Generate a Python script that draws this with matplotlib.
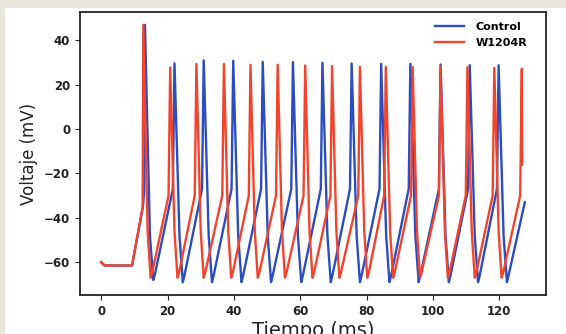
import matplotlib
matplotlib.use("Agg")
import matplotlib.pyplot as plt
from matplotlib.patches import Rectangle

# Control trace vertices (tiempo en ms, voltaje en mV), una fila por espiga
control_t = [0, 1.0, 9.3, 12.6, 12.95,
             13.2, 14.7, 15.7,
             16.2, 21.6, 22.1, 23.6, 24.6,
             25.1, 30.4, 30.9, 32.4, 33.4,
             33.9, 39.3, 39.8, 41.3, 42.3,
             42.8, 48.2, 48.7, 50.2, 51.2,
             51.7, 57.3, 57.8, 59.3, 60.3,
             60.8, 66.2, 66.7, 68.2, 69.2,
             69.7, 75.0, 75.5, 77.0, 78.0,
             78.5, 83.9, 84.4, 85.9, 86.9,
             87.4, 92.7, 93.2, 94.7, 95.7,
             96.2, 101.8, 102.3, 103.8, 104.8,
             105.3, 110.6, 111.1, 112.6, 113.6,
             114.1, 119.3, 119.8, 121.3, 122.3,
             122.8, 127.7]
control_v = [-60, -61.5, -61.5, -35, -28,
             47, -48, -68,
             -65.5, -27, 29.6, -48, -69,
             -66, -27, 31.0, -48, -69,
             -66, -27, 30.8, -48, -69,
             -66, -27, 30.3, -48, -69,
             -66, -27, 30.2, -48, -69,
             -66, -27, 29.9, -48, -69,
             -66, -27, 29.6, -48, -69,
             -66, -27, 29.4, -48, -69,
             -66, -27, 29.4, -48, -69,
             -66, -27, 29.1, -48, -69,
             -66, -27, 28.8, -48, -69,
             -66, -27, 28.8, -48, -69,
             -66, -33]

# W1204R trace vertices
w1204r_t = [0, 1.0, 9.3, 12.5,
            12.7, 14.0, 14.9,
            15.4, 20.3, 20.8, 22.1, 23.0,
            23.5, 28.2, 28.7, 30.0, 30.9,
            31.4, 36.5, 37.0, 38.3, 39.2,
            39.7, 44.5, 45.0, 46.3, 47.2,
            47.7, 52.7, 53.2, 54.5, 55.4,
            55.9, 61.0, 61.5, 62.8, 63.7,
            64.2, 69.1, 69.6, 70.9, 71.8,
            72.3, 77.5, 78.0, 79.3, 80.2,
            80.7, 85.3, 85.8, 87.1, 88.0,
            88.5, 93.4, 93.9, 95.2, 96.1,
            96.6, 101.8, 102.3, 103.6, 104.5,
            105.0, 109.9, 110.4, 111.7, 112.6,
            113.1, 118.0, 118.5, 119.8, 120.7,
            121.2, 126.3, 126.8, 126.9]
w1204r_v = [-60, -61.5, -61.5, -35,
            47, -46, -67,
            -64.5, -30, 27.8, -46, -67,
            -64.5, -30, 29.3, -46, -67,
            -64.5, -30, 29.3, -46, -67,
            -64.5, -30, 29.0, -46, -67,
            -64.5, -30, 29.0, -46, -67,
            -64.5, -30, 28.7, -46, -67,
            -64.5, -30, 28.4, -46, -67,
            -64.5, -30, 28.1, -46, -67,
            -64.5, -30, 28.1, -46, -67,
            -64.5, -30, 28.0, -46, -67,
            -64.5, -30, 28.4, -46, -67,
            -64.5, -30, 27.9, -46, -67,
            -64.5, -30, 27.6, -46, -67,
            -64.5, -30, 27.2, -16]

fig = plt.figure(figsize=(5.66, 3.34), dpi=100, facecolor='white')
# borde beige de la foto original
fig.patches.append(Rectangle((0, 0), 5 / 566, 1, transform=fig.transFigure,
                             facecolor='#e9e6dd', edgecolor='none', zorder=0))
fig.patches.append(Rectangle((0, 1 - 8 / 334), 1, 8 / 334, transform=fig.transFigure,
                             facecolor='#e9e6dd', edgecolor='none', zorder=0))

ax = fig.add_axes([80 / 566, 1 - 295 / 334, 466 / 566, 283 / 334])
ax.plot(control_t, control_v, color='#2c4cc0', lw=1.7, label='Control')
ax.plot(w1204r_t, w1204r_v, color='#f2442c', lw=1.7, label='W1204R')

ax.set_yticks([-60, -40, -20, 0, 20, 40])
ax.set_xticks([0, 20, 40, 60, 80, 100, 120])
ax.tick_params(labelsize=8.5, colors='#222222')
for lab in ax.get_xticklabels() + ax.get_yticklabels():
    lab.set_fontweight('bold')
for sp in ax.spines.values():
    sp.set_linewidth(1.3)
    sp.set_color('#222222')

ax.set_xlabel('Tiempo (ms)', fontsize=14, color='#222222', labelpad=2)
ax.set_ylabel('Voltaje (mV)', fontsize=12, color='#222222')

leg = ax.legend(loc='upper right', frameon=False,
                handlelength=2.6, handletextpad=1.0,
                bbox_to_anchor=(1 - 9 / 466, 1.0),
                prop={'weight': 'bold', 'size': 8})

fig.savefig('out.png', dpi=100, facecolor=fig.get_facecolor())
